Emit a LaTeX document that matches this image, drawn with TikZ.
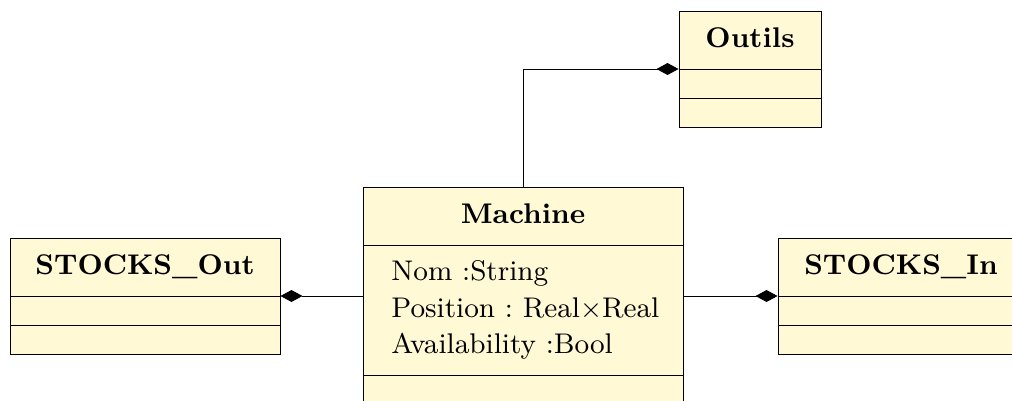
\documentclass[tikz,border=0pt]{standalone}
\usetikzlibrary{arrows.meta}
\definecolor{umlfill}{RGB}{255,249,214}
\newdimen\px \px=0.327pt
\begin{document}
\begin{tikzpicture}[x=0.327pt,y=-0.327pt,line width=0.3pt,
  every node/.style={font=\fontsize{9.3pt}{11.2pt}\selectfont},
  classbox/.style={draw=black,fill=umlfill,rectangle,inner sep=0pt},
  title/.style={font=\fontsize{9.3pt}{11.2pt}\selectfont\bfseries,anchor=base},
  attr/.style={anchor=base west,inner sep=0pt},
  comp/.style={-{Diamond[length=7.2pt,width=3.9pt]}}]
\useasboundingbox (0,0) rectangle (1012,400);
\clip (0,0) rectangle (1012,400);
% classes
\node[classbox,minimum width=270\px,minimum height=116\px] (out) at (145,296) {};
\node[classbox,minimum width=246\px,minimum height=116\px] (in) at (901,296) {};
\node[classbox,minimum width=142\px,minimum height=116\px] (outils) at (750,69) {};
\node[classbox,minimum width=320\px,minimum height=217\px] (machine) at (523,295.5) {};
% compartments
\draw (10,296) -- (280,296) (10,325) -- (280,325);
\draw (778,296) -- (1024,296) (778,325) -- (1024,325);
\draw (679,69) -- (821,69) (679,98) -- (821,98);
\draw (363,245) -- (683,245) (363,375) -- (683,375);
% titles
\node[title] (out-t) at (145,274) {STOCKS\_Out};
\node[title] (in-t) at (901,274) {STOCKS\_In};
\node[title] (outils-t) at (750,47) {Outils};
\node[title] (machine-t) at (523,223) {Machine};
% attributes
\node[attr] (a1) at (391,280) {Nom :String};
\node[attr] (a2) at (391,317) {Position :\ Real$\times$Real};
\node[attr] (a3) at (391,353) {Availability :Bool};
% connectors
\draw[comp] (machine.west |- out.east) -- (out.east);
\draw[comp] (machine.east |- in.west) -- (in.west);
\draw[comp] (machine.north) |- (outils.west);
\end{tikzpicture}
\end{document}
